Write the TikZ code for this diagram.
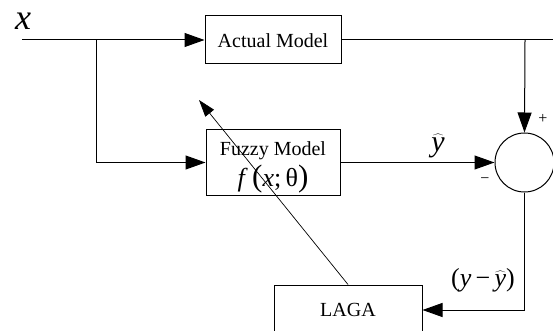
\documentclass[tikz,border=0pt]{standalone}
\usepackage{fontspec}
\setmainfont{Liberation Serif}
\usetikzlibrary{arrows.meta}
\newcommand{\yhat}{\ensuremath{\widehat{\textit{y}}}}
\begin{document}
\begin{tikzpicture}[x=1pt,y=-1pt,
  blk/.style={draw, line width=1pt, rectangle, inner sep=0pt},
  wire/.style={draw, line width=1pt},
  flow/.style={wire, -{Triangle[length=20pt,width=14pt]}},
  tuning/.style={draw, line width=0.7pt, -{Triangle[length=17pt,width=11pt]}},
  txt/.style={inner sep=0pt, font=\fontsize{20}{24}\selectfont},
  sym/.style={inner sep=0pt, font=\fontsize{26}{30}\selectfont}]
\clip (0,0) rectangle (553,331);
\useasboundingbox (0,0) rectangle (553,331);

% blocks
\node[blk, minimum width=136pt, minimum height=48pt] (actual) at (273,40) {};
\node[txt] (actualtxt) at (273,41) {Actual Model};
\node[blk, minimum width=134pt, minimum height=65pt] (fuzzy) at (273,162.5) {};
\node[txt] (fuzzytxt) at (273,151) {Fuzzy Model};
\node[sym] (fuzzyfn) at (273,179) {\textit{f}\,{\fontsize{31}{31}\selectfont(}\textit{x};\,θ{\fontsize{31}{31}\selectfont)}};
\node[blk, minimum width=148pt, minimum height=60pt] (laga) at (348,315) {};
\node[txt] (lagatxt) at (348,310) {LAGA};
\node[draw, line width=1pt, circle, minimum size=59pt, inner sep=0pt] (sum) at (524.5,162.5) {};

% signal labels
\node[inner sep=0pt, font=\fontsize{36}{40}\selectfont\itshape] (xlbl) at (23,21) {x};
\node[inner sep=0pt, font=\fontsize{30}{32}\selectfont] (yhatlbl) at (438,146) {\yhat};
\node[inner sep=0pt, font=\fontsize{16}{18}\selectfont] (plus) at (543,119) {+};
\node[inner sep=0pt, font=\fontsize{16}{18}\selectfont] (minus) at (485,181) {−};
\node[inner sep=0pt, font=\fontsize{26}{30}\selectfont] (errlbl) at (483,280) {(\textit{y}\,−\,\yhat)};

% connectors
\coordinate (xin) at (22,40);
\coordinate (split) at (96,40);
\coordinate (tap) at (525,40);
\coordinate (xout) at (553,40);
\coordinate (tune) at (199,100);

\draw[flow] (xin) -- (actual.west);
\draw[flow] (split) |- (fuzzy.west);
\draw[wire] (actual.east) -- (xout);
\draw[flow] (tap) -- (sum.north);
\draw[flow] (fuzzy.east) -- (sum.west);
\draw[flow] (sum.south) |- (lagatxt -| laga.east);
\draw[tuning] (laga.north) -- (tune);
\end{tikzpicture}
\end{document}
